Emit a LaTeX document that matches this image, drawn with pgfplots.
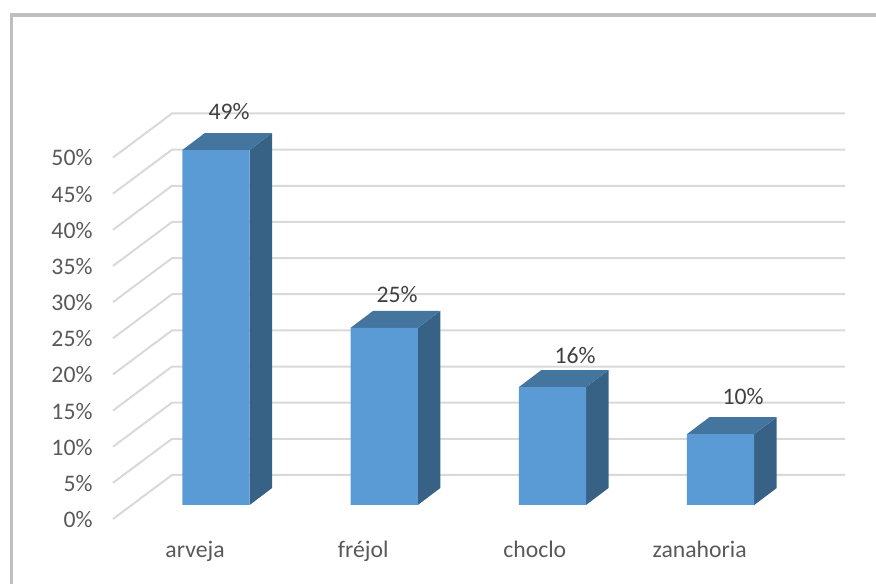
\documentclass[border=0pt]{standalone}
\usepackage{pgfplots}
\pgfplotsset{compat=1.18}
\usepackage{fontspec}
\setmainfont{Carlito}
\definecolor{barfront}{HTML}{5B9BD5}
\definecolor{bartop}{HTML}{44759F}
\definecolor{barside}{HTML}{386285}
\definecolor{gridc}{HTML}{D9D9D9}
\definecolor{framec}{HTML}{BFBFBF}
\definecolor{tickc}{HTML}{595959}
\definecolor{labc}{HTML}{404040}
\begin{document}
\begin{tikzpicture}
\begin{axis}[
  scale only axis,
  width=732bp, height=405.5bp,
  xmin=-0.6124, xmax=3.7396,
  ymin=-1.94, ymax=54.15,
  clip=false,
  axis line style={draw=none},
  tick style={draw=none},
  xtick={0,1,2.02,3},
  xticklabels={arveja,fréjol,choclo,zanahoria},
  ytick={0,5,...,50},
  yticklabels={0\%,5\%,10\%,15\%,20\%,25\%,30\%,35\%,40\%,45\%,50\%},
  tick label style={font=\fontsize{23.8}{26}\selectfont, text=tickc},
  yticklabel style={yshift=-14.5bp, xshift=-17bp},
  xticklabel style={xshift=-21bp, yshift=-19bp},
  grid=none,
]
% page and frame
\path (axis cs:-1.2842,-10.93) rectangle (axis cs:3.9239,69.85);
\draw[framec, line width=3.2bp, line cap=rect] (axis cs:-1.2158,-10.70) -- (axis cs:-1.2158,67.77) -- (axis cs:3.914,67.77);

% walls: front edge, back edge, right end
\addplot[gridc, line width=2bp, mark=none] coordinates {(-0.6124,-1.94) (-0.2616,4.15) (3.7396,4.15)};
\addplot[gridc, line width=2bp, mark=none] coordinates {(-0.6124,3.06) (-0.2616,9.15) (3.7396,9.15)};
\addplot[gridc, line width=2bp, mark=none] coordinates {(-0.6124,8.06) (-0.2616,14.15) (3.7396,14.15)};
\addplot[gridc, line width=2bp, mark=none] coordinates {(-0.6124,13.06) (-0.2616,19.15) (3.7396,19.15)};
\addplot[gridc, line width=2bp, mark=none] coordinates {(-0.6124,18.06) (-0.2616,24.15) (3.7396,24.15)};
\addplot[gridc, line width=2bp, mark=none] coordinates {(-0.6124,23.06) (-0.2616,29.15) (3.7396,29.15)};
\addplot[gridc, line width=2bp, mark=none] coordinates {(-0.6124,28.06) (-0.2616,34.15) (3.7396,34.15)};
\addplot[gridc, line width=2bp, mark=none] coordinates {(-0.6124,33.06) (-0.2616,39.15) (3.7396,39.15)};
\addplot[gridc, line width=2bp, mark=none] coordinates {(-0.6124,38.06) (-0.2616,44.15) (3.7396,44.15)};
\addplot[gridc, line width=2bp, mark=none] coordinates {(-0.6124,43.06) (-0.2616,49.15) (3.7396,49.15)};
\addplot[gridc, line width=2bp, mark=none] coordinates {(-0.6124,48.06) (-0.2616,54.15) (3.7396,54.15)};

% side faces
\addplot[fill=barside, draw=none, mark=none] coordinates {(0.2,0) (0.3338,2.35) (0.3338,51.45) (0.2,49.1)} -- cycle;
\addplot[fill=barside, draw=none, mark=none] coordinates {(1.2,0) (1.3338,2.35) (1.3338,26.85) (1.2,24.5)} -- cycle;
\addplot[fill=barside, draw=none, mark=none] coordinates {(2.2,0) (2.3338,2.35) (2.3338,18.65) (2.2,16.3)} -- cycle;
\addplot[fill=barside, draw=none, mark=none] coordinates {(3.2,0) (3.3338,2.35) (3.3338,12.15) (3.2,9.8)} -- cycle;
% top faces
\addplot[fill=bartop, draw=none, mark=none] coordinates {(-0.2,49.1) (-0.0662,51.45) (0.3338,51.45) (0.2,49.1)} -- cycle;
\addplot[fill=bartop, draw=none, mark=none] coordinates {(0.8,24.5) (0.9338,26.85) (1.3338,26.85) (1.2,24.5)} -- cycle;
\addplot[fill=bartop, draw=none, mark=none] coordinates {(1.8,16.3) (1.9338,18.65) (2.3338,18.65) (2.2,16.3)} -- cycle;
\addplot[fill=bartop, draw=none, mark=none] coordinates {(2.8,9.8) (2.9338,12.15) (3.3338,12.15) (3.2,9.8)} -- cycle;
% front faces
\addplot[ybar, bar width=0.4, fill=barfront, draw=none, mark=none] coordinates {(0,49.1) (1,24.5) (2,16.3) (3,9.8)};

% data labels
\addplot[only marks, mark=none, point meta=explicit symbolic,
  nodes near coords,
  every node near coord/.style={anchor=center, text=labc, font=\fontsize{23.8}{26}\selectfont}]
  table[meta=lab, row sep=\\] {
  x y lab\\
  0.0773 54.36 49\%\\
  1.0761 29.18 25\%\\
  2.1344 20.61 16\%\\
  3.1332 14.94 10\%\\
};
\end{axis}
\end{tikzpicture}
\end{document}
